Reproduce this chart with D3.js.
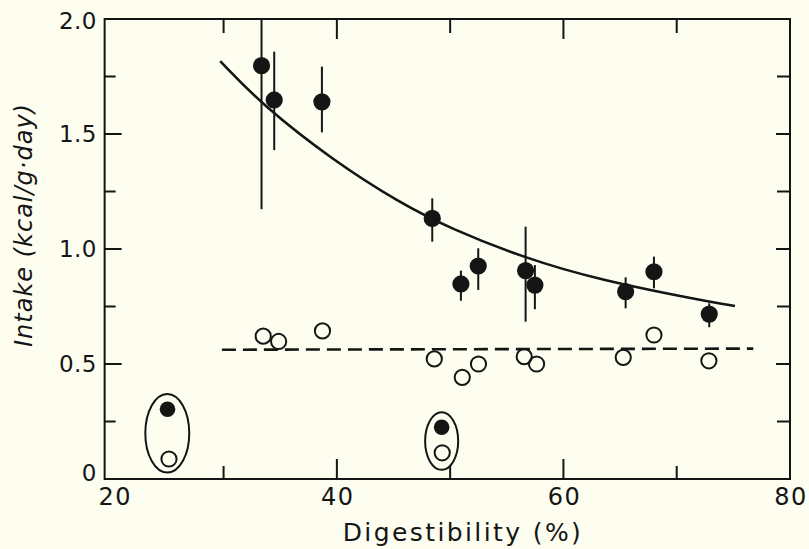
<!DOCTYPE html>
<html>
<head>
<meta charset="utf-8">
<script src="https://cdn.jsdelivr.net/npm/d3@7"></script>
<style>
  html, body { margin: 0; padding: 0; background: #fdfdf0; }
  svg { display: block; }
  text { font-family: "DejaVu Sans", sans-serif; fill: #151515; }
</style>
</head>
<body>
<svg id="chart" width="809" height="549"></svg>
<script>
// ---- data ----
const xTickLabels = [20, 40, 60, 80];
const xMajorTicks = [40, 60];
const xMinorTicks = [30, 50, 70];
const yTickLabels = [0, 0.5, 1.0, 1.5, 2.0];
const yMajorTicks = [0.5, 1.0, 1.5];
const yMinorTicks = [0.25, 0.75, 1.25, 1.75];

// filled circles (with error bars)
const filledX    = [33.35, 34.47, 38.68, 48.42, 50.95, 52.48, 56.66, 57.48, 65.49, 67.99, 72.87];
const filledY    = [1.797, 1.648, 1.640, 1.133, 0.848, 0.926, 0.906, 0.843, 0.815, 0.901, 0.717];
const errLow     = [1.173, 1.430, 1.507, 1.032, 0.775, 0.822, 0.684, 0.738, 0.742, 0.829, 0.660];
const errHigh    = [2.000, 1.858, 1.793, 1.220, 0.906, 1.003, 1.097, 0.930, 0.877, 0.967, 0.764];

// open circles
const openX = [33.50, 34.86, 38.73, 48.60, 51.07, 52.50, 56.54, 57.63, 65.28, 67.99, 72.84];
const openY = [0.621, 0.598, 0.644, 0.522, 0.442, 0.500, 0.532, 0.500, 0.529, 0.626, 0.514];

// circled (excluded) pairs
const circFilledX = [25.05, 49.25];
const circFilledY = [0.303, 0.225];
const circOpenX   = [25.18, 49.30];
const circOpenY   = [0.087, 0.114];
const ellipseCX   = [25.03, 49.25];
const ellipseCY   = [0.199, 0.165];
const ellipseRX   = [1.94, 1.46];
const ellipseRY   = [0.171, 0.125];

// fitted solid curve
const curveX = [29.70, 33.50, 39.68, 45.57, 49.98, 56.60, 63.22, 72.05, 75.14];
const curveY = [1.817, 1.622, 1.385, 1.200, 1.090, 0.960, 0.865, 0.778, 0.752];

// dashed mean line
const dashX = [29.85, 76.76];
const dashY = [0.562, 0.567];

// ---- drawing ----
const ink = "#151515";
const svg = d3.select("#chart");
const x = d3.scaleLinear().domain([20, 80]).range([110.3, 790]);
const y = d3.scaleLinear().domain([0, 2]).range([479, 19]);

const L = x(19.5), R = x(80), T = y(2), B = y(0);

// frame
svg.append("rect").attr("x", L).attr("y", T).attr("width", R - L).attr("height", B - T)
  .attr("fill", "none").attr("stroke", ink).attr("stroke-width", 2);

// ticks (inward on all four sides)
const xt = svg.append("g").attr("stroke", ink).attr("stroke-width", 2);
xMajorTicks.forEach(v => {
  xt.append("line").attr("x1", x(v)).attr("x2", x(v)).attr("y1", B).attr("y2", B - 20);
  xt.append("line").attr("x1", x(v)).attr("x2", x(v)).attr("y1", T).attr("y2", T + 20);
});
xMinorTicks.forEach(v => {
  xt.append("line").attr("x1", x(v)).attr("x2", x(v)).attr("y1", B).attr("y2", B - 13);
  xt.append("line").attr("x1", x(v)).attr("x2", x(v)).attr("y1", T).attr("y2", T + 14);
});
yMajorTicks.forEach(v => {
  xt.append("line").attr("x1", L).attr("x2", L + 17).attr("y1", y(v)).attr("y2", y(v));
  xt.append("line").attr("x1", R).attr("x2", R - 14).attr("y1", y(v)).attr("y2", y(v));
});
yMinorTicks.forEach(v => {
  xt.append("line").attr("x1", L).attr("x2", L + 11).attr("y1", y(v)).attr("y2", y(v));
  xt.append("line").attr("x1", R).attr("x2", R - 13).attr("y1", y(v)).attr("y2", y(v));
});

// tick labels
svg.append("g").selectAll("text").data(xTickLabels).join("text")
  .attr("x", d => x(d) + (d === 20 ? 5 : 1))
  .attr("y", 505)
  .attr("text-anchor", "middle")
  .attr("font-size", 24)
  .attr("letter-spacing", 1.5)
  .text(d => d);

svg.append("g").selectAll("text").data(yTickLabels).join("text")
  .attr("x", 97)
  .attr("y", d => y(d) + 8 - (d === 0 ? 6 : 0) + (d === 2 ? 2 : 0))
  .attr("text-anchor", "end")
  .attr("font-size", 23)
  .attr("letter-spacing", 0.5)
  .text(d => d === 0 ? "0" : d3.format(".1f")(d));

// axis titles
svg.append("text")
  .attr("x", 463).attr("y", 541)
  .attr("text-anchor", "middle")
  .attr("font-size", 25)
  .attr("letter-spacing", 2.4)
  .text("Digestibility (%)");

svg.append("text")
  .attr("transform", "translate(32,225) rotate(-90)")
  .attr("text-anchor", "middle")
  .attr("font-size", 24)
  .attr("font-style", "italic")
  .attr("letter-spacing", 1)
  .text("Intake (kcal/g\u00B7day)");

// fitted curve
svg.append("path")
  .attr("d", d3.line().x(d => x(d[0])).y(d => y(d[1])).curve(d3.curveBasis)(d3.zip(curveX, curveY)))
  .attr("fill", "none").attr("stroke", ink).attr("stroke-width", 2.6);

// dashed line
svg.append("path")
  .attr("d", d3.line().x(d => x(d[0])).y(d => y(d[1]))(d3.zip(dashX, dashY)))
  .attr("fill", "none").attr("stroke", ink).attr("stroke-width", 2.6)
  .attr("stroke-dasharray", "14,7");

// error bars
svg.append("g").selectAll("line").data(d3.range(filledX.length)).join("line")
  .attr("x1", i => x(filledX[i])).attr("x2", i => x(filledX[i]))
  .attr("y1", i => y(errLow[i])).attr("y2", i => y(errHigh[i]))
  .attr("stroke", ink).attr("stroke-width", 2);

// open circles
svg.append("g").selectAll("circle").data(d3.zip(openX, openY)).join("circle")
  .attr("cx", d => x(d[0])).attr("cy", d => y(d[1])).attr("r", 7.6)
  .attr("fill", "none").attr("stroke", ink).attr("stroke-width", 2);

// filled circles
svg.append("g").selectAll("circle").data(d3.zip(filledX, filledY)).join("circle")
  .attr("cx", d => x(d[0])).attr("cy", d => y(d[1])).attr("r", 8.6)
  .attr("fill", ink);

// circled pairs
svg.append("g").selectAll("ellipse").data(d3.range(ellipseCX.length)).join("ellipse")
  .attr("cx", i => x(ellipseCX[i])).attr("cy", i => y(ellipseCY[i]))
  .attr("rx", i => x(20 + ellipseRX[i]) - x(20))
  .attr("ry", i => y(0) - y(ellipseRY[i]))
  .attr("fill", "none").attr("stroke", ink).attr("stroke-width", 2);
svg.append("g").selectAll("circle").data(d3.zip(circOpenX, circOpenY)).join("circle")
  .attr("cx", d => x(d[0])).attr("cy", d => y(d[1])).attr("r", 7.6)
  .attr("fill", "none").attr("stroke", ink).attr("stroke-width", 2);
svg.append("g").selectAll("circle").data(d3.zip(circFilledX, circFilledY)).join("circle")
  .attr("cx", d => x(d[0])).attr("cy", d => y(d[1])).attr("r", 7.8)
  .attr("fill", ink);
</script>
</body>
</html>
